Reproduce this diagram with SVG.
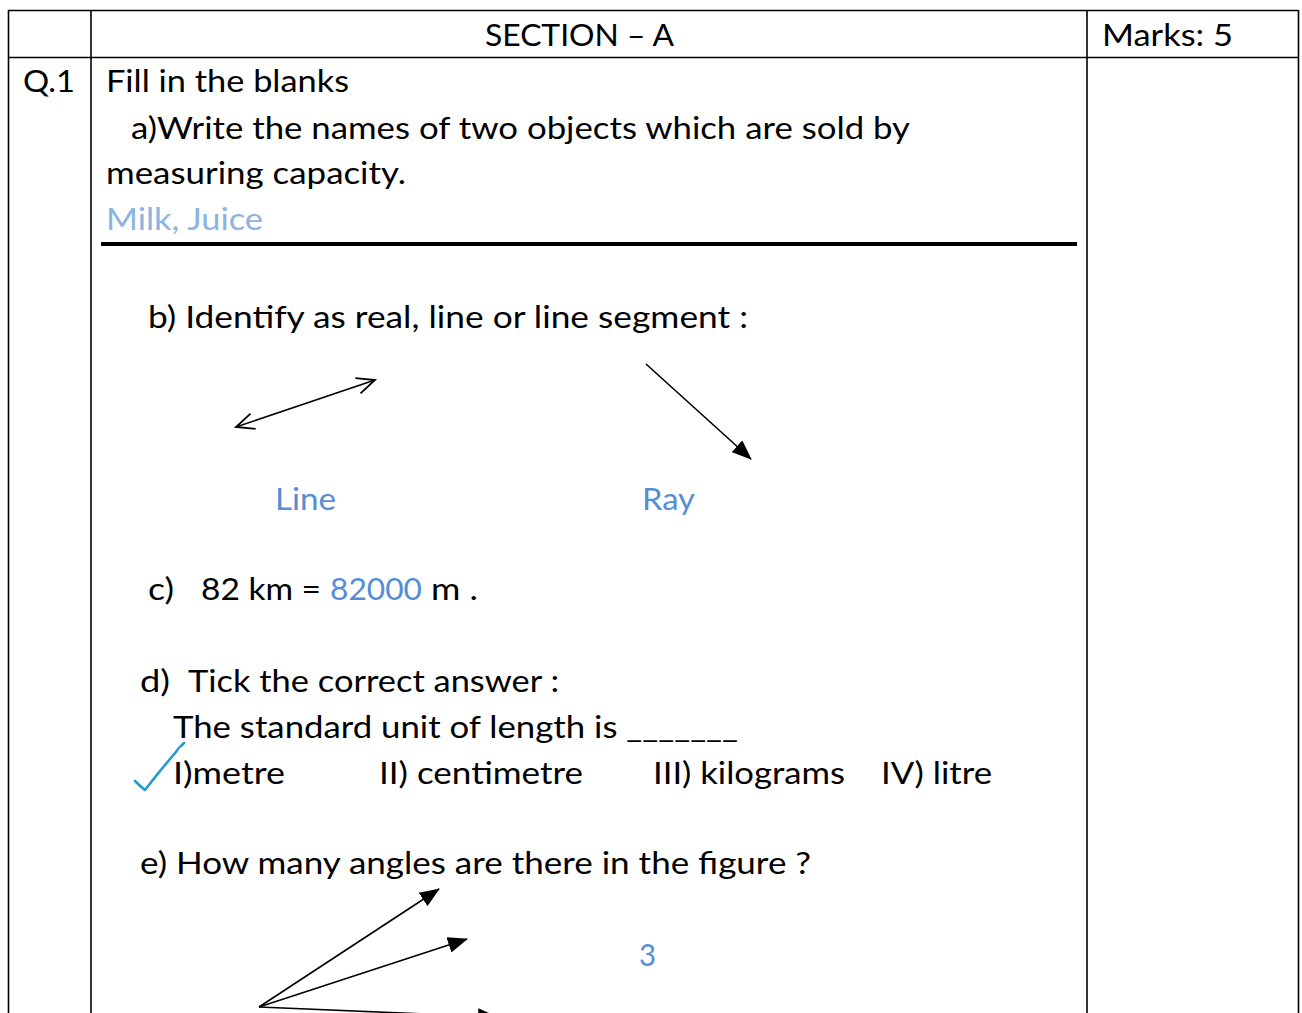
<svg xmlns="http://www.w3.org/2000/svg" width="1302" height="1013" viewBox="0 0 1302 1013">
<style>
.t{font-family:Lato,"Open Sans","Liberation Sans",sans-serif;font-size:30px;fill:#000}
.b{fill:#558ED5}
.lb{fill:#8DB3E2}
.grid{stroke:#000;stroke-width:1.6;fill:none}
.ln{stroke:#000;stroke-width:1.6;fill:none}
</style>
<defs>
<marker id="solidL" markerWidth="20" markerHeight="16" refX="19" refY="8" orient="auto" markerUnits="userSpaceOnUse" viewBox="0 0 20 16">
<path d="M0,0 L20,8 L0,16 Z" fill="#000"/>
</marker>
<marker id="open" markerWidth="22" markerHeight="20" refX="20" refY="10" orient="auto-start-reverse" markerUnits="userSpaceOnUse" viewBox="0 0 22 20">
<path d="M2,2 L20,10 L2,18" fill="none" stroke="#000" stroke-width="1.8"/>
</marker>
</defs>
<g id="table">
<line class="grid" x1="8" y1="10.5" x2="1298" y2="10.5"/>
<line class="grid" x1="8" y1="57.5" x2="1298" y2="57.5"/>
<line class="grid" x1="8.5" y1="10" x2="8.5" y2="1013"/>
<line class="grid" x1="91" y1="10" x2="91" y2="1013"/>
<line class="grid" x1="1087" y1="10" x2="1087" y2="1013"/>
<line class="grid" x1="1298.5" y1="10" x2="1298.5" y2="1013"/>
<line x1="101" y1="244" x2="1077" y2="244" stroke="#000" stroke-width="4"/>
</g>
<g id="header">
<text class="t" x="485" y="46" textLength="189" lengthAdjust="spacingAndGlyphs">SECTION – A</text>
<text class="t" x="1102" y="46" textLength="131" lengthAdjust="spacingAndGlyphs">Marks: 5</text>
<text class="t" x="23" y="92" textLength="52" lengthAdjust="spacingAndGlyphs">Q.1</text>
</g>
<g id="part-a">
<text class="t" x="106" y="92" textLength="243" lengthAdjust="spacingAndGlyphs">Fill in the blanks</text>
<text class="t" x="131" y="139" textLength="779" lengthAdjust="spacingAndGlyphs">a)Write the names of two objects which are sold by</text>
<text class="t" x="106" y="184" textLength="300" lengthAdjust="spacingAndGlyphs">measuring capacity.</text>
<text class="t lb" x="106" y="230" textLength="157" lengthAdjust="spacingAndGlyphs">Milk, Juice</text>
</g>
<g id="part-b">
<text class="t" x="148" y="328" textLength="600" lengthAdjust="spacingAndGlyphs">b) Identify as real, line or line segment :</text>
<text class="t b" x="275" y="510" textLength="61" lengthAdjust="spacingAndGlyphs">Line</text>
<text class="t b" x="642" y="510" textLength="53" lengthAdjust="spacingAndGlyphs">Ray</text>
</g>
<g id="part-c">
<text class="t" x="148" y="600" textLength="26" lengthAdjust="spacingAndGlyphs">c)</text>
<text class="t" x="201" y="600" textLength="120" lengthAdjust="spacingAndGlyphs">82 km =</text>
<text class="t b" x="330" y="600" textLength="92" lengthAdjust="spacingAndGlyphs">82000</text>
<text class="t" x="431" y="600" textLength="47" lengthAdjust="spacingAndGlyphs">m .</text>
</g>
<g id="part-d">
<text class="t" x="140" y="692" textLength="30" lengthAdjust="spacingAndGlyphs">d)</text>
<text class="t" x="188" y="692" textLength="371" lengthAdjust="spacingAndGlyphs">Tick the correct answer :</text>
<text class="t" x="173" y="738" textLength="565" lengthAdjust="spacingAndGlyphs">The standard unit of length is _______</text>
<text class="t" x="173" y="784" textLength="112" lengthAdjust="spacingAndGlyphs">I)metre</text>
<text class="t" x="379" y="784" textLength="204" lengthAdjust="spacingAndGlyphs">II) centimetre</text>
<text class="t" x="653" y="784" textLength="192" lengthAdjust="spacingAndGlyphs">III) kilograms</text>
<text class="t" x="881" y="784" textLength="111" lengthAdjust="spacingAndGlyphs">IV) litre</text>
<path d="M135,781 Q140,786 145,790 Q162,768 176,752 Q180,746 181,746 L184,743" fill="none" stroke="#1F9AD6" stroke-width="2.6" stroke-linecap="round" stroke-linejoin="round"/>
</g>
<g id="part-e">
<text class="t" x="140" y="874" textLength="671" lengthAdjust="spacingAndGlyphs">e) How many angles are there in the figure ?</text>
<text class="t b" x="639" y="966" textLength="17" lengthAdjust="spacingAndGlyphs">3</text>
</g>
<g id="connectors">
<line class="ln" x1="236" y1="427" x2="375" y2="380" marker-start="url(#open)" marker-end="url(#open)"/>
<line class="ln" x1="646" y1="364" x2="751" y2="459" marker-end="url(#solidL)"/>
<line class="ln" x1="259" y1="1007" x2="439" y2="889" marker-end="url(#solidL)"/>
<line class="ln" x1="259" y1="1007" x2="467" y2="939" marker-end="url(#solidL)"/>
<line class="ln" x1="259" y1="1007" x2="497" y2="1017" marker-end="url(#solidL)"/>
</g>
</svg>
